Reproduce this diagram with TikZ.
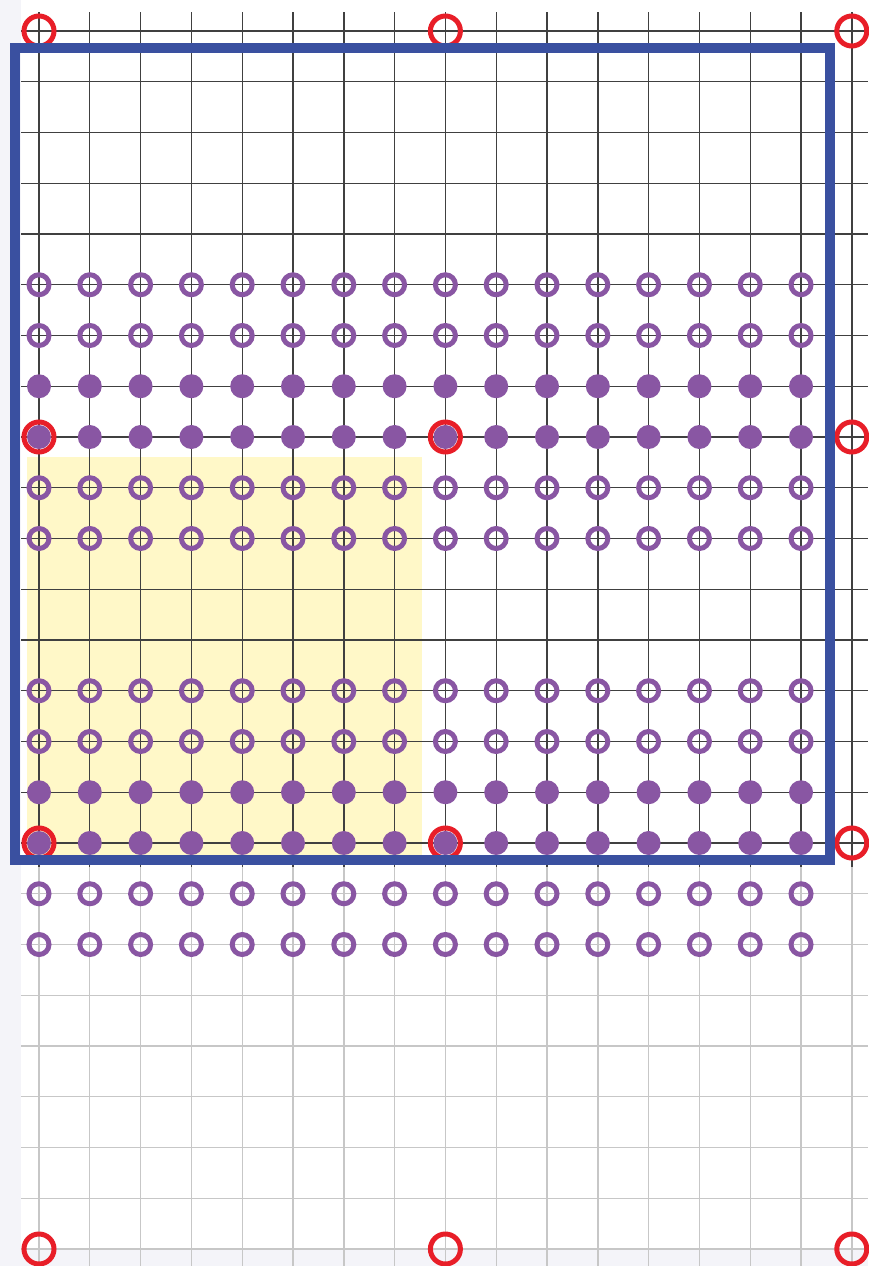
\documentclass[tikz,border=0pt]{standalone}
\usepackage{xcolor}
\usepackage{tikz}
\definecolor{frameblue}{HTML}{3A50A0}
\definecolor{dotpurple}{HTML}{8956A3}
\definecolor{ringred}{HTML}{E81E28}
\definecolor{cellyellow}{HTML}{FFF8C8}
\definecolor{outerbg}{HTML}{F4F4F9}

\begin{document}
\begin{tikzpicture}[x=50.8pt,y=-50.75pt,
  gridline/.style={draw=black!75,line width=1.4pt},
  faintline/.style={draw=black!22,line width=1.4pt},
  fulldot/.style={circle,fill=dotpurple,inner sep=0pt,minimum size=24pt},
  opendot/.style={circle,draw=dotpurple,line width=5pt,inner sep=0pt,minimum size=20pt},
  redring/.style={circle,draw=ringred,line width=5pt,inner sep=0pt,minimum size=30pt}]
\useasboundingbox (-0.7677,-0.6108) rectangle (16.3189,24.335);
\fill[outerbg] (-0.7677,-0.6108) rectangle (16.3189,24.335);
\fill[white] (-0.354,-0.6108) rectangle (16.3189,24.0);
% highlighted block
\fill[cellyellow] (-0.236,8.394) rectangle (7.539,16.335);
% lattice
\foreach \i in {0,...,16} {
  \draw[gridline] (\i,-0.374) -- (\i,16.47);
  \draw[faintline] (\i,16.47) -- (\i,24.335);
}
\foreach \j in {0,...,16} \draw[gridline] (-0.354,\j) -- (16.3189,\j);
\foreach \j in {17,...,24} \draw[faintline] (-0.354,\j) -- (16.3189,\j);
% sites
\foreach \j in {5,6,9,10,13,14,17,18}
  \foreach \i in {0,...,15} \node[opendot] (o-\i-\j) at (\i,\j) {};
\foreach \j in {7,8,15,16}
  \foreach \i in {0,...,15} \node[fulldot] (f-\i-\j) at (\i,\j) {};
% coarse lattice
\foreach \i in {0,8,16}
  \foreach \j in {0,8,16,24} \node[redring] (r-\i-\j) at (\i,\j) {};
% unit cell
\draw[frameblue,line width=10pt,line join=miter] (-0.4626,0.335) rectangle (15.571,16.335);
\end{tikzpicture}
\end{document}
